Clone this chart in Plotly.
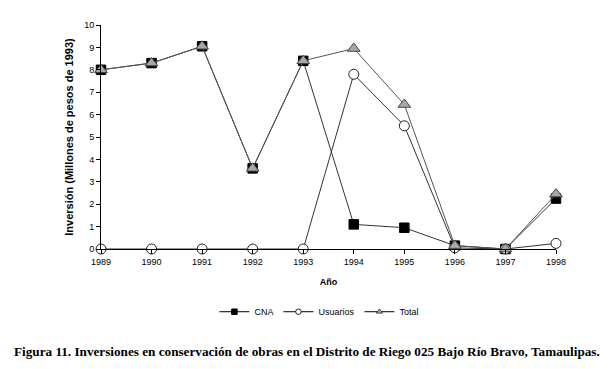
import plotly.graph_objects as go

years = [1989, 1990, 1991, 1992, 1993, 1994, 1995, 1996, 1997, 1998]
cna = [8.0, 8.3, 9.05, 3.6, 8.4, 1.1, 0.95, 0.15, 0.0, 2.25]
usuarios = [0.0, 0.0, 0.0, 0.0, 0.0, 7.8, 5.5, 0.05, 0.0, 0.25]
total = [8.0, 8.3, 9.05, 3.6, 8.4, 8.95, 6.45, 0.15, 0.0, 2.45]
y_ticks = list(range(0, 11))

series = [
    ("CNA", cna, dict(symbol="square", color="black", line=dict(color="black", width=1)), "#333333", 9.5),
    ("Usuarios", usuarios, dict(symbol="circle", color="white", line=dict(color="#222222", width=1)), "#333333", 10),
    ("Total", total, dict(symbol="triangle-up", color="#a8a8a8", line=dict(color="#444444", width=1)), "#555555", 11),
]

fig = go.Figure()
for name, vals, mk, lc, sz in series:
    fig.add_trace(go.Scatter(x=years, y=vals, name=name, mode="lines+markers",
                             line=dict(color=lc, width=1),
                             marker=dict(size=sz, **mk),
                             cliponaxis=False, showlegend=False))
for name, vals, mk, lc, sz in series:
    fig.add_trace(go.Scatter(x=[None], y=[None], name=name, mode="lines+markers",
                             line=dict(color="black", width=1),
                             marker=dict(size=5.5, **mk), showlegend=True))

fig.update_layout(
    width=613, height=369,
    margin=dict(l=93, r=65, t=13, b=128),
    paper_bgcolor="white", plot_bgcolor="white",
    font=dict(family="Liberation Sans, Arial", size=9, color="black"),
    showlegend=True,
    legend=dict(orientation="h", x=0.48, y=-0.28, xanchor="center", yanchor="middle",
                font=dict(size=9), itemwidth=30, bgcolor="rgba(0,0,0,0)"),
    xaxis=dict(range=[1989, 1998], tickmode="array", tickvals=years,
               ticktext=[str(y) for y in years], showgrid=False, zeroline=False,
               showline=True, linecolor="black", linewidth=1,
               ticks="outside", ticklen=4, tickcolor="black",
               title=dict(text="<b>Año</b>", font=dict(size=9), standoff=12)),
    yaxis=dict(range=[0, 10], tickmode="array", tickvals=y_ticks,
               showgrid=False, zeroline=False,
               showline=True, linecolor="black", linewidth=1,
               ticks="outside", ticklen=4, tickcolor="black",
               title=dict(text="<b>Inversión (Millones de pesos de 1993)</b>",
                          font=dict(size=11), standoff=8)),
)

fig.add_annotation(
    text="<b>Figura 11. Inversiones en conservación de obras en el Distrito de Riego 025 Bajo Río Bravo, Tamaulipas.</b>",
    xref="paper", yref="paper", x=(306 - 100) / 455, y=(248 - 352) / 228,
    xanchor="center", yanchor="middle", showarrow=False,
    font=dict(family="Liberation Serif, Times New Roman", size=13.2, color="black"))

fig.write_html("out.html")
